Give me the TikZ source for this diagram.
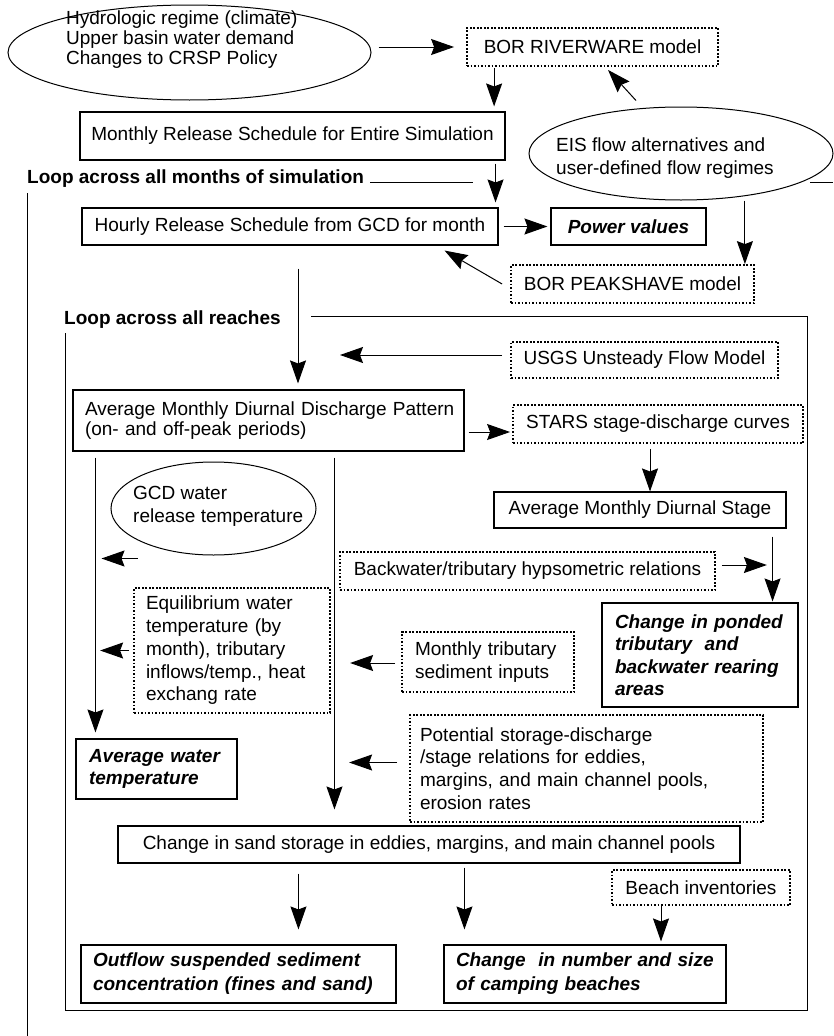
\documentclass[tikz,border=0pt]{standalone}
\usepackage{fontspec}
\setmainfont{Liberation Sans}
\usetikzlibrary{arrows.meta,shapes.geometric,calc}
\begin{document}
\begin{tikzpicture}[x=1pt,y=-1pt,
  base/.style={font=\fontsize{19}{22.5}\selectfont, inner sep=0pt},
  bi/.style={font=\fontsize{19}{22.5}\selectfont\bfseries\itshape},
  bold/.style={font=\fontsize{19}{22.5}\selectfont\bfseries, inner sep=0pt},
  box/.style={base, draw, line width=1.1pt, rectangle},
  dbox/.style={base, draw, line width=1.8pt, dash pattern=on 1.8pt off 1.7pt, rectangle},
  ell/.style={draw, ellipse, line width=1pt, inner sep=0pt},
  arr/.style={line width=1pt, -{Stealth[length=23pt,width=16pt,inset=3pt]}},
  frame/.style={line width=1pt}]
\useasboundingbox (0,0) rectangle (833,1036);

% ellipses
\node[ell, minimum width=363pt, minimum height=95pt] (hydell) at (189.5,52.5) {};
\node[base, anchor=west, align=left, font=\fontsize{19}{20}\selectfont] (hydtxt) at (66,40)
  {Hydrologic regime (climate)\\Upper basin water demand\\Changes to CRSP Policy};
\node[ell, minimum width=304pt, minimum height=93pt] (eisell) at (681,153.5) {};
\node[base, anchor=west, align=left, font=\fontsize{19}{23}\selectfont] (eistxt) at (556,158.5)
  {EIS flow alternatives and\\user-defined flow regimes};
\node[ell, minimum width=205pt, minimum height=93pt] (gcdell) at (213.5,508.5) {};
\node[base, anchor=west, align=left, font=\fontsize{19}{23}\selectfont] (gcdtxt) at (133,506.5)
  {GCD water\\release temperature};

% boxes
\node[dbox, minimum width=251pt, minimum height=38pt] (bor) at (592.5,47) {BOR RIVERWARE model};
\node[box, minimum width=425pt, minimum height=48pt] (monthly) at (292.5,136) {Monthly Release Schedule for Entire Simulation};
\node[box, minimum width=416pt, minimum height=37pt] (hourly) at (290,226.5) {Hourly Release Schedule from GCD for month};
\node[box, bi, inner sep=0pt, minimum width=155pt, minimum height=37pt] (power) at (628.5,226.5) {Power values};
\node[dbox, minimum width=243pt, minimum height=38pt] (peak) at (632.5,284) {BOR PEAKSHAVE model};
\node[dbox, minimum width=267pt, minimum height=36pt] (usgs) at (644.5,360) {USGS Unsteady Flow Model};
\node[box, minimum width=391pt, minimum height=61pt, text width=367pt, align=left, font=\fontsize{19}{20}\selectfont] (avgq) at (268.5,420.5)
  {\mbox{Average Monthly Diurnal Discharge Pattern}\\\mbox{(on- and off-peak periods)}};
\node[dbox, minimum width=290pt, minimum height=38pt] (stars) at (658,424) {STARS stage-discharge curves};
\node[box, minimum width=292pt, minimum height=36pt] (stage) at (640,510) {Average Monthly Diurnal Stage};
\node[dbox, minimum width=375pt, minimum height=38pt] (backw) at (527.5,571) {Backwater/tributary hypsometric relations};
\node[dbox, minimum width=196pt, minimum height=125pt, text width=172pt, align=left, font=\fontsize{19}{22.75}\selectfont] (equil) at (232,650.5)
  {\mbox{Equilibrium water}\\\mbox{temperature (by}\\\mbox{month), tributary}\\\mbox{inflows/temp., heat}\\\mbox{exchang rate}};
\node[dbox, minimum width=172pt, minimum height=60pt, text width=146pt, align=left] (mtrib) at (488,662)
  {\mbox{Monthly tributary}\\\mbox{sediment inputs}};
\node[box, bi, inner sep=0pt, minimum width=196pt, minimum height=104pt, text width=170pt, align=left] (pond) at (700,655)
  {\mbox{Change in ponded}\\\mbox{tributary\ \ and}\\\mbox{backwater rearing}\\\mbox{areas}};
\node[box, bi, inner sep=0pt, minimum width=161pt, minimum height=60pt, text width=135pt, align=left] (awt) at (156.5,769)
  {\mbox{Average water}\\\mbox{temperature}};
\node[dbox, minimum width=353pt, minimum height=107pt, text width=333pt, align=left, font=\fontsize{19}{22.7}\selectfont] (pot) at (586.5,768.5)
  {\mbox{Potential storage-discharge}\\\mbox{/stage relations for eddies,}\\\mbox{margins, and main channel pools,}\\\mbox{erosion rates}};
\node[box, minimum width=622pt, minimum height=37pt] (sand) at (429,844.5) {Change in sand storage in eddies, margins, and main channel pools};
\node[dbox, minimum width=178pt, minimum height=35pt] (beach) at (701,887.5) {Beach inventories};
\node[box, bi, inner sep=0pt, minimum width=315pt, minimum height=58pt, text width=291pt, align=left, font=\fontsize{19}{24}\selectfont\bfseries\itshape] (outflow) at (238.5,974)
  {\mbox{Outflow suspended sediment}\\\mbox{concentration (fines and sand)}};
\node[box, bi, inner sep=0pt, minimum width=282pt, minimum height=58pt, text width=258pt, align=left, font=\fontsize{19}{24}\selectfont\bfseries\itshape] (camp) at (585,974)
  {\mbox{Change\ \ in number and size}\\\mbox{of camping beaches}};

% loop labels and frames
\node[bold, anchor=west] (loopm) at (27,179) {Loop across all months of simulation};
\node[bold, anchor=west] (loopr) at (64,320) {Loop across all reaches};
\coordinate (lm1) at (473,182);
\coordinate (lm2) at (810,182);
\coordinate (lm3) at (833,182);
\draw[frame] ($(loopm.east)+(6,3)$) -- (lm1);
\draw[frame] (lm2) -- (lm3);
\draw[frame] (27,193) -- (27,1036);
\draw[frame] (311,316) -- (807,316) -- (807,1010) -- (65,1010) -- (65,333);

% connectors
\draw[arr, shorten <=7pt, shorten >=12pt] (hydell.east |- bor.west) -- (bor.west);
\coordinate (b1) at ([xshift=28pt]bor.south west);
\draw[arr, shorten <=1pt, shorten >=5pt] (b1) -- (b1 |- monthly.north);
\coordinate (m1) at ([xshift=-10pt]monthly.south east);
\draw[arr, shorten <=3pt, shorten >=5pt] (m1) -- (m1 |- hourly.north);
\draw[arr] ($(eisell.north)+(-45,-6)$) -- ($(bor.south)+(15.5,3)$);
\draw[arr, shorten <=5pt, shorten >=3pt] (hourly.east) -- (power.west);
\coordinate (p1) at ([xshift=-10pt]peak.north east);
\draw[arr] (p1 |- eisell.south) -- (p1);
\draw[arr] ($(peak.west)+(-8,0)$) -- ($(hourly.south east)+(-54,5)$);
\coordinate (h1) at ([xshift=8pt]hourly.south);
\draw[arr, shorten <=23pt, shorten >=6pt] (h1) -- (h1 |- avgq.north);
\coordinate (usgsend) at (340,355);
\draw[arr, shorten <=8pt] ($(usgs.west)+(0,-5)$) -- (usgsend);
\draw[arr, shorten <=4pt, shorten >=2pt] ($(avgq.east)+(0,11.5)$) -- ($(stars.west)+(0,8)$);
\coordinate (a1) at ([xshift=23pt]avgq.south west);
\draw[arr, shorten <=6pt, shorten >=6pt] (a1) -- (a1 |- awt.north);
\coordinate (a2) at ([xshift=262pt]avgq.south west);
\draw[arr, shorten <=6pt, shorten >=16pt] (a2) -- (a2 |- sand.north);
\draw[arr] ($(gcdell.south)+(-76,3)$) -- ($(gcdell.south)+(-112,3)$);
\coordinate (s1) at ([xshift=-8pt]stars.south);
\draw[arr, shorten <=5pt] (s1) -- (s1 |- stage.north);
\coordinate (g1) at ([xshift=-14pt]stage.south east);
\draw[arr, shorten <=8pt, shorten >=1pt] (g1) -- (g1 |- pond.north);
\draw[arr, shorten <=6pt] ($(backw.east)+(0,-6)$) -- ($(backw.east)+(51,-6)$);
\draw[arr, shorten <=4pt] (equil.west) -- ($(equil.west)+(-33,0)$);
\draw[arr, shorten <=6pt] ($(mtrib.west)+(0,1)$) -- ($(mtrib.west)+(-51,1)$);
\draw[arr, shorten <=12pt] ($(pot.west)+(0,-6)$) -- ($(pot.west)+(-60,-6)$);
\coordinate (d1) at ([xshift=181pt]sand.south west);
\draw[arr, shorten <=10pt, shorten >=15pt] (d1) -- (d1 |- outflow.north);
\coordinate (d2) at ([xshift=347pt]sand.south west);
\draw[arr, shorten <=4pt, shorten >=15pt] (d2) -- (d2 |- camp.north);
\coordinate (e1) at ([xshift=-40pt]beach.south);
\draw[arr, shorten >=3pt] (e1) -- (e1 |- camp.north);
\end{tikzpicture}
\end{document}
